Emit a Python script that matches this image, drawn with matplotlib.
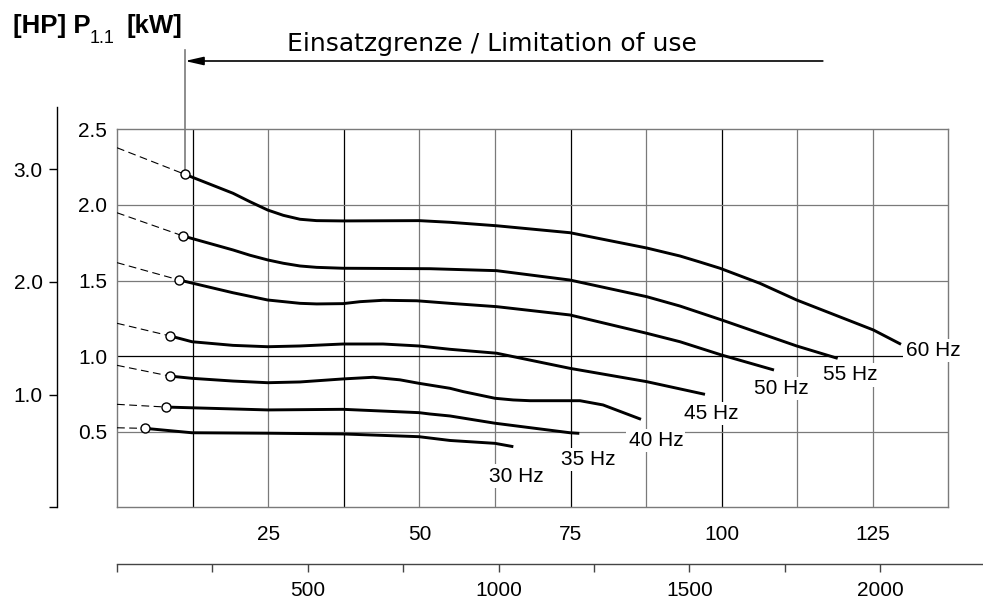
import matplotlib.pyplot as plt

plt.rcParams['font.family'] = ['Liberation Sans', 'DejaVu Sans']

# Q on the main x axis, P1.1 in kW on the main y axis
q30 = [4.68, 12.40, 24.92, 37.37, 49.93, 55.06, 62.50, 65.53]
p30 = [0.522, 0.493, 0.490, 0.485, 0.467, 0.442, 0.423, 0.401]

q35 = [8.10, 24.92, 37.37, 49.93, 51.75, 55.06, 62.50, 74.90, 76.44]
p35 = [0.663, 0.644, 0.648, 0.626, 0.617, 0.604, 0.556, 0.493, 0.489]

q40 = [8.71, 12.40, 19.18, 24.92, 30.26, 37.37, 42.33, 46.79, 49.93, 55.06, 57.26, 62.50,
       65.50, 68.29, 76.55, 80.36, 86.64]
p40 = [0.868, 0.853, 0.835, 0.824, 0.829, 0.849, 0.860, 0.843, 0.820, 0.787, 0.765, 0.721,
       0.710, 0.705, 0.705, 0.677, 0.582]

q45 = [8.81, 12.40, 19.18, 24.92, 30.26, 37.37, 43.98, 49.93, 55.06, 62.78, 74.90, 87.58, 97.22]
p45 = [1.133, 1.095, 1.071, 1.062, 1.067, 1.080, 1.080, 1.067, 1.045, 1.019, 0.919, 0.831, 0.747]

q50 = [10.30, 19.18, 24.92, 30.26, 33.02, 37.37, 40.20, 43.98, 49.55, 55.06, 62.78, 74.90,
       87.58, 93.09, 99.98, 108.63]
p50 = [1.503, 1.419, 1.371, 1.349, 1.345, 1.347, 1.360, 1.369, 1.366, 1.349, 1.327, 1.272,
       1.151, 1.095, 1.007, 0.908]

q55 = [10.96, 19.18, 21.99, 24.92, 27.50, 30.26, 33.00, 37.37, 51.75, 62.78, 74.90, 87.58,
       93.09, 99.98, 112.38, 119.16]
p55 = [1.794, 1.702, 1.667, 1.636, 1.614, 1.596, 1.587, 1.581, 1.578, 1.565, 1.503, 1.393,
       1.331, 1.239, 1.067, 0.985]

q60 = [11.24, 19.18, 21.99, 24.92, 27.50, 30.26, 33.00, 37.37, 49.93, 55.06, 62.78, 74.90,
       87.58, 93.09, 96.40, 99.70, 106.32, 112.38, 125.05, 129.63]
p60 = [2.202, 2.077, 2.021, 1.966, 1.931, 1.905, 1.896, 1.894, 1.896, 1.885, 1.862, 1.816,
       1.715, 1.662, 1.622, 1.581, 1.481, 1.371, 1.173, 1.078]

# dashed extension of each curve back to Q = 0
p_at_zero = [0.526, 0.681, 0.939, 1.217, 1.618, 1.948, 2.378]

hz_labels = ['30 Hz', '35 Hz', '40 Hz', '45 Hz', '50 Hz', '55 Hz', '60 Hz']
label_x = [66.0, 78.0, 89.1, 98.3, 109.9, 121.2, 134.9]
label_y = [0.207, 0.317, 0.440, 0.622, 0.787, 0.875, 1.036]

kw_ticks = [0.5, 1.0, 1.5, 2.0, 2.5]
q_ticks = [25, 50, 75, 100, 125]
hp_ticks = [0, 1, 2, 3]
hp_tick_labels = ['', '1.0', '2.0', '3.0']
gpm_ticks = [0, 250, 500, 750, 1000, 1250, 1500, 1750, 2000]
gpm_tick_labels = ['', '', '500', '', '1000', '', '1500', '', '2000']

limit_q = 11.24       # Einsatzgrenze
KW_PER_HP = 0.7457
GPM_PER_Q = 15.85

curves_q = [q30, q35, q40, q45, q50, q55, q60]
curves_p = [p30, p35, p40, p45, p50, p55, p60]

W, H = 983, 602
fig = plt.figure(figsize=(W / 100, H / 100), dpi=100)

x0, x1 = 117, 948      # main axes in pixels
y0, y1 = 507.3, 129.3
ax = fig.add_axes([x0 / W, 1 - y0 / H, (x1 - x0) / W, (y0 - y1) / H])
q_max = 137.4
ax.set_xlim(0, q_max)
ax.set_ylim(0, 2.5)

# grid, some lines printed gray, some black
gray = '#7a7a7a'
vcols = ['black', gray, 'black', gray, gray, 'black', gray, 'black', gray, gray]
for i, c in enumerate(vcols):
    ax.axvline(12.5 * (i + 1), color=c, lw=0.9, zorder=1)
hcols = [gray, 'black', gray, gray]
for i, c in enumerate(hcols):
    ax.axhline(0.5 * (i + 1), color=c, lw=0.9, zorder=1)
for s in ax.spines.values():
    s.set_color(gray)
    s.set_linewidth(1.0)

ax.set_xticks(q_ticks)
ax.set_xticklabels([str(t) for t in q_ticks])
ax.set_yticks(kw_ticks)
ax.set_yticklabels(['%.1f' % t for t in kw_ticks])
ax.tick_params(axis='x', length=0, pad=13, labelsize=15)
ax.tick_params(axis='y', length=0, pad=7, labelsize=15)

for q, p, pz, lab, lx, ly in zip(curves_q, curves_p, p_at_zero, hz_labels, label_x, label_y):
    ax.plot([0, q[0]], [pz, p[0]], color='black', lw=0.8, ls=(0, (7, 4)), zorder=3)
    ax.plot(q, p, color='black', lw=2.1, solid_joinstyle='round', solid_capstyle='butt', zorder=4)
    ax.plot(q[0], p[0], 'o', ms=6.5, mfc='white', mec='black', mew=1.0, zorder=5)
    ax.text(lx, ly, lab, fontsize=15, ha='center', va='center', zorder=6,
            bbox=dict(facecolor='white', edgecolor='none', pad=1.5))

# limitation of use marker above the plot
top_y = (y0 - 50) / ((y0 - y1) / 2.5)
arrow_y = (y0 - 61) / ((y0 - y1) / 2.5)
ax.plot([limit_q, limit_q], [p60[0], top_y], color=gray, lw=1.2, clip_on=False, zorder=2)
ax.annotate('', xy=(limit_q, arrow_y), xytext=(116.7, arrow_y), annotation_clip=False,
            arrowprops=dict(arrowstyle='-|>,head_length=1.1,head_width=0.25',
                            color='black', lw=1.2, shrinkA=0, shrinkB=0))
fig.text(287 / W, 1 - 51.3 / H, 'Einsatzgrenze / Limitation of use',
         fontsize=18, family=['DejaVu Sans'], ha='left', va='baseline')

# HP axis on the left
hp_top = 106.7
ax_hp = fig.add_axes([56.7 / W, 1 - y0 / H, 0.001, (y0 - hp_top) / H])
ax_hp.set_ylim(0, (y0 - hp_top) / ((y0 - y1) / 2.5) / KW_PER_HP)
for name in ['top', 'right', 'bottom']:
    ax_hp.spines[name].set_visible(False)
ax_hp.spines['left'].set_linewidth(1.0)
ax_hp.set_xticks([])
ax_hp.set_yticks(hp_ticks)
ax_hp.set_yticklabels(hp_tick_labels)
ax_hp.tick_params(axis='y', length=6, width=1.0, pad=4, labelsize=15)
ax_hp.patch.set_visible(False)

# second flow scale at the bottom
ax_g = fig.add_axes([x0 / W, 1 - 564 / H, (W - x0) / W, 0.001])
ax_g.set_xlim(0, (W - x0) / ((x1 - x0) / q_max) * GPM_PER_Q)
for name in ['top', 'right', 'left']:
    ax_g.spines[name].set_visible(False)
ax_g.spines['bottom'].set_linewidth(1.0)
ax_g.spines['bottom'].set_color('#444444')
ax_g.set_yticks([])
ax_g.set_xticks(gpm_ticks)
ax_g.set_xticklabels(gpm_tick_labels)
ax_g.tick_params(axis='x', length=6, width=1.0, pad=6, labelsize=15, color='#444444')
ax_g.patch.set_visible(False)

# axis title  [HP] P1.1 [kW]
fig.text(12.7 / W, 1 - 33.3 / H, '[HP] P', fontsize=18.5, fontweight='bold', va='baseline')
fig.text(90 / W, 1 - 43 / H, '1.1', fontsize=13, va='baseline')
fig.text(126.7 / W, 1 - 33.3 / H, '[kW]', fontsize=18.5, fontweight='bold', va='baseline')

fig.savefig('out.png', dpi=100)
